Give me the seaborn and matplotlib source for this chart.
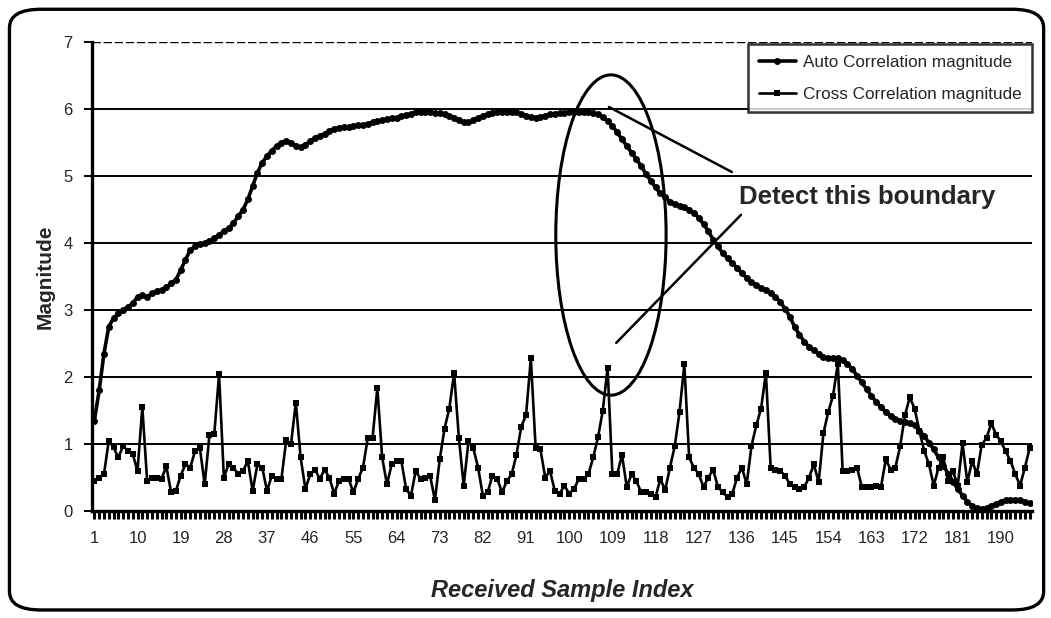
import numpy as np
import pandas as pd
import matplotlib
matplotlib.use("Agg")
import matplotlib.pyplot as plt
import seaborn as sns
from matplotlib.patches import Ellipse, FancyBboxPatch

# ---------------- data ----------------
auto_corr = [
    1.35, 1.80, 2.35, 2.75, 2.88, 2.95, 3.00, 3.05, 3.10, 3.20,
    3.22, 3.20, 3.25, 3.28, 3.30, 3.34, 3.40, 3.45, 3.60, 3.75,
    3.90, 3.95, 3.98, 4.00, 4.03, 4.08, 4.12, 4.18, 4.22, 4.30,
    4.40, 4.50, 4.65, 4.85, 5.05, 5.20, 5.30, 5.38, 5.45, 5.50,
    5.53, 5.50, 5.45, 5.43, 5.47, 5.52, 5.57, 5.60, 5.63, 5.67,
    5.70, 5.72, 5.73, 5.73, 5.75, 5.76, 5.76, 5.78, 5.80, 5.82,
    5.83, 5.85, 5.86, 5.87, 5.89, 5.91, 5.93, 5.95, 5.96, 5.96,
    5.95, 5.94, 5.94, 5.93, 5.90, 5.87, 5.84, 5.80, 5.80, 5.83,
    5.87, 5.90, 5.92, 5.94, 5.96, 5.96, 5.96, 5.96, 5.95, 5.93,
    5.90, 5.88, 5.87, 5.88, 5.90, 5.92, 5.93, 5.94, 5.94, 5.95,
    5.96, 5.96, 5.96, 5.96, 5.94, 5.92, 5.88, 5.82, 5.75, 5.65,
    5.55, 5.45, 5.35, 5.25, 5.15, 5.03, 4.93, 4.83, 4.74, 4.68,
    4.62, 4.58, 4.56, 4.54, 4.50, 4.45, 4.38, 4.28, 4.18, 4.05,
    3.95, 3.85, 3.77, 3.70, 3.63, 3.55, 3.48, 3.42, 3.37, 3.33,
    3.30, 3.26, 3.20, 3.12, 3.02, 2.90, 2.75, 2.63, 2.53, 2.45,
    2.40, 2.35, 2.30, 2.28, 2.28, 2.28, 2.25, 2.20, 2.12, 2.02,
    1.92, 1.82, 1.72, 1.63, 1.55, 1.48, 1.42, 1.38, 1.35, 1.33,
    1.31, 1.28, 1.20, 1.12, 1.02, 0.92, 0.80, 0.68, 0.56, 0.44,
    0.33, 0.23, 0.14, 0.08, 0.04, 0.03, 0.05, 0.08, 0.11, 0.14,
    0.16, 0.17, 0.17, 0.16, 0.14, 0.12,
]

cross_corr = [
    0.45, 0.50, 0.55, 1.05, 0.95, 0.80, 0.97, 0.90, 0.85, 0.60,
    1.55, 0.45, 0.50, 0.50, 0.48, 0.67, 0.28, 0.30, 0.53, 0.70,
    0.65, 0.90, 0.94, 0.40, 1.14, 1.15, 2.04, 0.50, 0.70, 0.65,
    0.55, 0.60, 0.75, 0.30, 0.70, 0.65, 0.30, 0.53, 0.48, 0.48,
    1.06, 1.00, 1.62, 0.80, 0.33, 0.55, 0.62, 0.48, 0.62, 0.50,
    0.26, 0.45, 0.48, 0.48, 0.28, 0.48, 0.65, 1.09, 1.09, 1.84,
    0.80, 0.40, 0.70, 0.75, 0.75, 0.33, 0.23, 0.60, 0.48, 0.50,
    0.53, 0.16, 0.77, 1.23, 1.53, 2.06, 1.09, 0.38, 1.04, 0.94,
    0.65, 0.23, 0.28, 0.53, 0.48, 0.28, 0.45, 0.55, 0.84, 1.26,
    1.43, 2.28, 0.94, 0.92, 0.50, 0.60, 0.30, 0.26, 0.38, 0.26,
    0.33, 0.48, 0.48, 0.55, 0.80, 1.10, 1.50, 2.14, 0.55, 0.55,
    0.84, 0.36, 0.55, 0.45, 0.28, 0.28, 0.26, 0.21, 0.48, 0.31,
    0.65, 0.97, 1.48, 2.19, 0.80, 0.65, 0.55, 0.36, 0.50, 0.62,
    0.36, 0.28, 0.21, 0.26, 0.50, 0.65, 0.40, 0.97, 1.28, 1.53,
    2.06, 0.65, 0.62, 0.60, 0.53, 0.40, 0.36, 0.33, 0.36, 0.50,
    0.70, 0.43, 1.16, 1.48, 1.72, 2.20, 0.60, 0.60, 0.62, 0.65,
    0.36, 0.36, 0.36, 0.38, 0.36, 0.77, 0.62, 0.65, 0.97, 1.43,
    1.70, 1.53, 1.20, 0.90, 0.70, 0.38, 0.65, 0.80, 0.45, 0.60,
    0.38, 1.01, 0.43, 0.75, 0.55, 0.99, 1.09, 1.31, 1.14, 1.04,
    0.89, 0.75, 0.55, 0.38, 0.65, 0.94,
]

sample_index = list(range(1, len(auto_corr) + 1))
x_tick_labels = list(range(1, 191, 9))
y_ticks = [0, 1, 2, 3, 4, 5, 6, 7]
series_names = ["Auto Correlation magnitude", "Cross Correlation magnitude"]
annotation_text = "Detect this boundary"

# ---------------- styling ----------------
sns.set_theme(style="white")
plt.rcParams["font.family"] = ["Liberation Sans", "DejaVu Sans"]

df = pd.DataFrame({
    "idx": sample_index * 2,
    "val": auto_corr + cross_corr,
    "series": [series_names[0]] * len(auto_corr) + [series_names[1]] * len(cross_corr),
})

fig = plt.figure(figsize=(10.51, 6.18), dpi=100)
ax = fig.add_axes([0.0875, 0.173, 0.8945, 0.759])

sns.lineplot(data=df[df.series == series_names[0]], x="idx", y="val",
             color="black", marker="o", linewidth=2.6, markersize=5,
             markeredgewidth=0, ax=ax, label=series_names[0])
sns.lineplot(data=df[df.series == series_names[1]], x="idx", y="val",
             color="black", marker="s", linewidth=1.9, markersize=4.5,
             markeredgewidth=0, ax=ax, label=series_names[1])

ax.set_xlim(0.5, len(auto_corr) + 0.5)
ax.set_ylim(0, 7)
ax.set_yticks(y_ticks)
ax.set_yticklabels([str(v) for v in y_ticks], fontsize=12)
ax.set_xticks(x_tick_labels)
ax.set_xticklabels([str(v) for v in x_tick_labels], fontsize=12)
ax.set_xticks(sample_index, minor=True)
ax.tick_params(axis="x", which="both", bottom=True, direction="out", length=6,
               width=2.2, color="black", pad=8)
ax.tick_params(axis="y", which="major", left=True, direction="out", length=6,
               width=1.4, color="black", pad=8)

# horizontal grid lines
for v in y_ticks[1:-1]:
    ax.axhline(v, color="black", lw=1.4, zorder=0.5)
ax.axhline(7, color="black", lw=1.0, ls=(0, (6, 2)), zorder=0.5)
ax.axvline(len(auto_corr) + 0.5, color="black", lw=0.8, ls=(0, (1, 3)), zorder=0.5)

for s in ["top", "right"]:
    ax.spines[s].set_visible(False)
ax.spines["left"].set_color("black")
ax.spines["left"].set_linewidth(2.4)
ax.spines["bottom"].set_color("black")
ax.spines["bottom"].set_linewidth(2.4)

ax.set_xlabel("Received Sample Index", fontsize=17, fontweight="bold",
              fontstyle="italic", labelpad=24)
ax.set_ylabel("Magnitude", fontsize=15, fontweight="bold", labelpad=6)

# annotations
ell = Ellipse((108.7, 4.12), width=23.0, height=4.78, fill=False,
              edgecolor="black", lw=2.2, zorder=5)
ax.add_patch(ell)
ax.plot([108.3, 133.9], [6.03, 5.06], color="black", lw=1.8, zorder=5)
ax.plot([109.8, 135.8], [2.51, 4.42], color="black", lw=1.8, zorder=5)
ax.text(135.4, 4.69, annotation_text, fontsize=18.5, fontweight="bold",
        ha="left", va="center", zorder=6)

leg = ax.legend(loc="upper right", bbox_to_anchor=(1.0, 0.995), fontsize=12.3,
                frameon=True, fancybox=False, edgecolor="black",
                handlelength=2.2, handletextpad=0.4, borderpad=0.6,
                labelspacing=1.0, borderaxespad=0.0)
leg.get_frame().set_linewidth(1.8)

# outer rounded frame
frame = FancyBboxPatch((0.009, 0.013), 0.984, 0.972,
                       boxstyle="round,pad=0,rounding_size=0.03",
                       transform=fig.transFigure, fill=False,
                       edgecolor="black", lw=2.4)
fig.patches.append(frame)

fig.savefig("out.png", dpi=100)
